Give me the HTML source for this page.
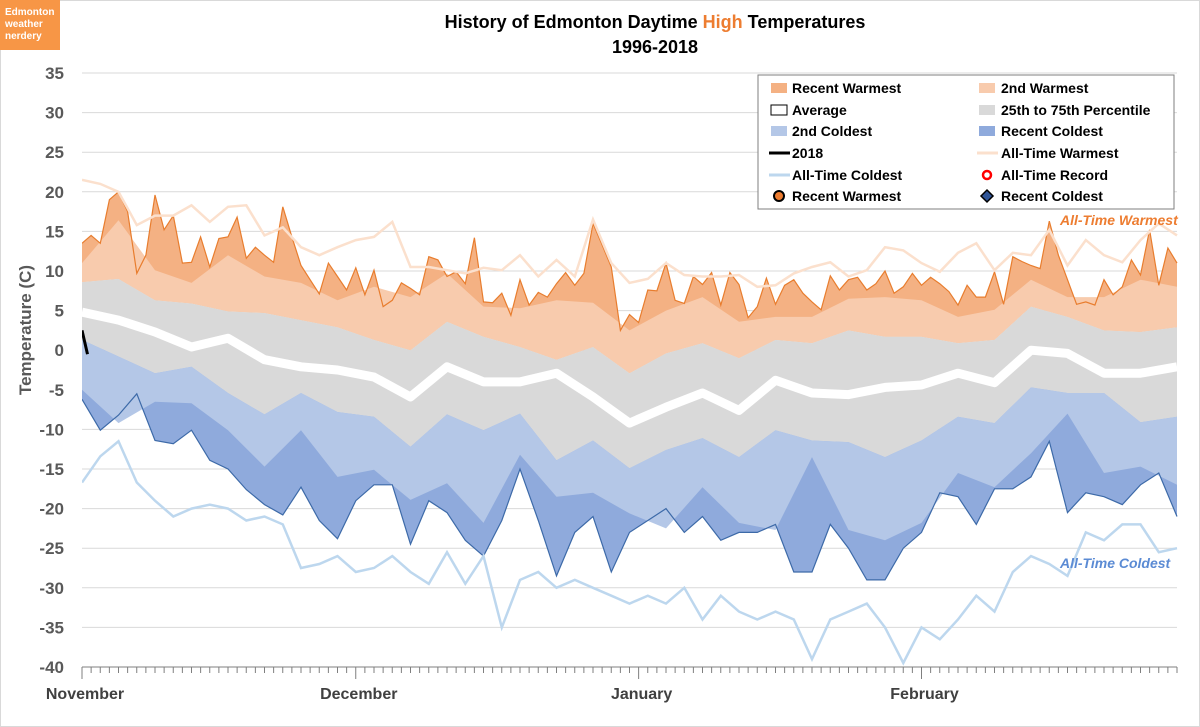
<!DOCTYPE html>
<html><head><meta charset="utf-8"><style>
body{margin:0;background:#fff;}
svg{display:block;font-family:"Liberation Sans",sans-serif;}
</style></head><body>
<svg id="chart" width="1200" height="727" viewBox="0 0 1200 727">
<rect x="0.5" y="0.5" width="1199" height="726" fill="#fff" stroke="#d9d9d9"/>
<rect x="0" y="0" width="60" height="50" fill="#f79646"/>
<text x="5" y="15" font-size="10" font-weight="bold" fill="#fff"><tspan x="5">Edmonton</tspan><tspan x="5" dy="12">weather</tspan><tspan x="5" dy="12">nerdery</tspan></text>
<text x="655" y="28" text-anchor="middle" font-size="18" font-weight="bold" fill="#000">History of Edmonton Daytime <tspan fill="#ed7d31">High</tspan> Temperatures</text>
<text x="655" y="53" text-anchor="middle" font-size="18" font-weight="bold" fill="#000">1996-2018</text>
<text transform="translate(31,330) rotate(-90)" text-anchor="middle" font-size="17" font-weight="bold" fill="#595959">Temperature (C)</text>
<g id="grid"></g><g id="plot"></g><g id="axes"></g>
<g>
<rect x="758" y="75" width="416" height="134" fill="#fff" stroke="#7f7f7f"/>
<g font-size="14" font-weight="bold" fill="#000">
<rect x="771" y="83" width="16" height="10" fill="#f4b183"/><text x="792" y="93">Recent Warmest</text>
<rect x="979" y="83" width="16" height="10" fill="#f8cbad"/><text x="1001" y="93">2nd Warmest</text>
<rect x="771" y="105" width="16" height="10" fill="#fff" stroke="#000"/><text x="792" y="115">Average</text>
<rect x="979" y="105" width="16" height="10" fill="#d9d9d9"/><text x="1001" y="115">25th to 75th Percentile</text>
<rect x="771" y="126" width="16" height="10" fill="#b4c7e7"/><text x="792" y="136">2nd Coldest</text>
<rect x="979" y="126" width="16" height="10" fill="#8faadc"/><text x="1001" y="136">Recent Coldest</text>
<line x1="769" y1="153" x2="790" y2="153" stroke="#000" stroke-width="3"/><text x="792" y="158">2018</text>
<line x1="977" y1="153" x2="998" y2="153" stroke="#fbe0cd" stroke-width="3"/><text x="1001" y="158">All-Time Warmest</text>
<line x1="769" y1="175" x2="790" y2="175" stroke="#bdd7ee" stroke-width="3"/><text x="792" y="180">All-Time Coldest</text>
<circle cx="987" cy="175" r="4" fill="#fff" stroke="#ff0000" stroke-width="2.5"/><text x="1001" y="180">All-Time Record</text>
<circle cx="779" cy="196" r="5" fill="#ed7d31" stroke="#000" stroke-width="2"/><text x="792" y="201">Recent Warmest</text>
<path d="M987,190 L993,196 L987,202 L981,196 Z" fill="#2f5597" stroke="#000" stroke-width="1.5"/><text x="1001" y="201">Recent Coldest</text>
</g></g>
<text x="1060" y="225" font-size="14" font-weight="bold" font-style="italic" fill="#ed7d31">All-Time Warmest</text>
<text x="1060" y="568" font-size="14" font-weight="bold" font-style="italic" fill="#5b8bd4">All-Time Coldest</text>
</svg>
<script>
const yTicks=[35,30,25,20,15,10,5,0,-5,-10,-15,-20,-25,-30,-35,-40];
const monthLabels=["November","December","January","February"];
const monthStarts=[0,30,61,92];
const recentWarm=[13.5,14.5,13.5,19,20,17.5,9.7,12,19.6,15.2,17,11,11.1,14.3,10.5,14.1,14.3,16.8,11.6,13,12,11.1,18.1,14.3,10.7,8.9,7.1,11,9.3,
7.6,10.4,7,10.1,5.5,6.3,8.5,7.8,7,11.8,11.4,9.3,9.9,8.4,14.2,6.1,6,7.2,4.4,8.9,5.7,7.3,6.7,8.4,9.8,8.2,9.7,16,13.3,10.5,2.5,4.5,3.5,7.6,7.5,11,6.3,5.9,9.3,8.3,9.8,5.7,9.8,8.3,4.1,5.5,9.1,5.8,8.2,8.9,7.2,6.1,5.1,9.4,7.6,8.9,9.2,7.6,8.4,10,7.2,8,9.7,8.2,9.2,8.4,7.4,5.7,8.2,6.7,6.7,9.9,5.8,11.8,11.2,10.7,10.3,16.3,12,8.9,5.8,6.1,5.7,8.9,7,8,11.4,9.5,15.2,8.2,12.9,11];
const allWarm=[21.5,21,20,15.8,17,17,18.3,16.2,18.1,18.3,14.5,15.5,13,12,13,13.9,14.3,16.2,10.5,10.5,10.1,9.7,10.4,10.1,12,9.3,11.4,9.3,16.5,11,8.5,9,11,9.5,9.3,9.3,9.5,8,8.2,9.7,10.5,11.1,9.3,10.1,13,12.6,11,9.9,12.3,13.5,10.1,12.3,12,15.2,10.7,13.9,12,11.1,13.9,16,14.5];
const warm2=[11,16.4,10.1,8.5,12,9.3,8.5,6.3,8,6.7,9.7,5.5,5.3,6.3,6,2.5,5,6.7,3.6,4.2,4.2,6.5,6.7,6.3,4.2,5.1,8.9,6.7,6.7,8.9,8];
const p75=[8.6,9,6.3,5.9,4.9,4.7,3.8,2.9,1.3,0,3.6,1.7,0.4,-1.2,0.4,-2.9,-0.4,0.9,-1,1.3,0.9,2.5,1.7,1.7,0.9,1.3,5.5,4.2,2.5,2.3,2.9];
const avg=[4.8,3.8,2.3,0.4,1.5,-1.2,-2.1,-2.5,-3.4,-5.9,-2.1,-4,-4,-2.9,-5.9,-9.2,-7.2,-5.4,-7.6,-3.8,-5.4,-5.6,-4.7,-4.4,-2.9,-4.1,0,-0.4,-2.9,-2.9,-2.1];
const p25=[1.3,-0.8,-2.9,-2.1,-5.4,-8.1,-5.4,-7.8,-8.4,-12.2,-8.1,-10.1,-8,-13.9,-11.4,-14.9,-12.6,-11.1,-13.5,-10.1,-11.4,-11.6,-13.5,-11.4,-8.4,-9.2,-4.7,-5.4,-5.4,-9.1,-8.4];
const cold2=[-5,-9.2,-6.5,-6.7,-10.1,-14.7,-10.1,-16,-15.1,-18.9,-16.8,-21.8,-13.2,-18.5,-18,-20.6,-22.5,-17.3,-21.8,-22.7,-13.5,-22.7,-24,-21.8,-15.5,-17.3,-13,-8,-15.5,-14.7,-17];
const recentCold=[-6.2,-10.1,-8.2,-5.5,-11.4,-11.8,-10.1,-13.9,-15,-17.6,-19.5,-20.8,-17.3,-21.5,-23.8,-19,-17,-17,-24.5,-19,-20.5,-24,-26,-21.5,-15,-21.5,-28.5,-23,-21,-28,-23,-21.5,-20,-23,-21,-24,-23,-23,-22,-28,-28,-22,-25,-29,-29,-25,-23,-18,-18.5,-22,-17.5,-17.5,-16,-11.5,-20.5,-18,-18.5,-19.5,-17,-15.5,-21];
const allCold=[-16.7,-13.4,-11.5,-16.7,-19,-21,-20,-19.5,-20,-21.5,-21,-22,-27.5,-27,-26,-28,-27.5,-26,-28,-29.5,-25.5,-29.5,-26,-35,-29,-28,-30,-29,-30,-31,-32,-31,-32,-30,-34,-31,-33,-34,-33,-34,-39,-34,-33,-32,-35,-39.5,-35,-36.5,-34,-31,-33,-28,-26,-27,-28.5,-23,-24,-22,-22,-25.5,-25];
const y2018=[2.5,-0.5];

const NS="http://www.w3.org/2000/svg";
const X0=82,DAYW=9.125,NDAYS=120;
function xs(d){return X0+d*DAYW;}
function ys(t){return 350.2-t*7.92;}
function pts(arr,step){return arr.map((v,i)=>[xs(i*step),ys(v)]);}
function mk(tag,attrs,parent){const e=document.createElementNS(NS,tag);for(const k in attrs)e.setAttribute(k,attrs[k]);parent.appendChild(e);return e;}
function area(top,ts,bot,bs){const a=pts(top,ts),b=pts(bot,bs).reverse();return a.concat(b).map(p=>p[0].toFixed(1)+","+p[1].toFixed(1)).join(" ");}
function line(arr,step){return pts(arr,step).map(p=>p[0].toFixed(1)+","+p[1].toFixed(1)).join(" ");}

const svg=document.getElementById('chart');
const grid=document.getElementById('grid');
const plot=document.getElementById('plot');
const axes=document.getElementById('axes');
const defs=mk('defs',{},svg);
const cp=mk('clipPath',{id:'pc'},defs);
mk('rect',{x:X0,y:60,width:xs(NDAYS)-X0+2,height:ys(-40)-60},cp);
plot.setAttribute('clip-path','url(#pc)');

yTicks.forEach(t=>{
  const g=mk('line',{x1:X0,x2:xs(NDAYS),y1:ys(t),y2:ys(t),stroke:'#d9d9d9','stroke-width':1},grid);
  
  
  const l=mk('text',{x:64,y:ys(t)+6,'text-anchor':'end','font-size':17,'font-weight':'bold',fill:'#595959'},axes);
  l.textContent=t;
  
  
});

let e;
e=mk('polygon',{points:area(recentWarm,1,p75,4),fill:'#f4b183'},plot);


e=mk('polygon',{points:area(warm2,4,p75,4),fill:'#f8cbad'},plot);


e=mk('polygon',{points:area(p75,4,p25,4),fill:'#d9d9d9'},plot);


e=mk('polygon',{points:area(p25,4,recentCold,2),fill:'#8faadc'},plot);


e=mk('polygon',{points:area(p25,4,cold2,4),fill:'#b4c7e7'},plot);


e=mk('polyline',{points:line(avg,4),fill:'none',stroke:'#fff','stroke-width':9,'stroke-linejoin':'round'},plot);


e=mk('polyline',{points:line(recentWarm,1),fill:'none',stroke:'#e87d2e','stroke-width':1.2},plot);


e=mk('polyline',{points:line(recentCold,2),fill:'none',stroke:'#3d6aa8','stroke-width':1.2},plot);


e=mk('polyline',{points:line(allWarm,2),fill:'none',stroke:'#fbe0cd','stroke-width':2.5},plot);


e=mk('polyline',{points:line(allCold,2),fill:'none',stroke:'#bdd7ee','stroke-width':2.5},plot);


e=mk('polyline',{points:line(y2018,0.6),fill:'none',stroke:'#000','stroke-width':3},plot);



e=mk('line',{x1:X0,x2:xs(NDAYS),y1:ys(-40),y2:ys(-40),stroke:'#7f7f7f','stroke-width':1},axes);


for(let d=0;d<=NDAYS;d++){
  const big=monthStarts.includes(d);
  e=mk('line',{x1:xs(d),x2:xs(d),y1:ys(-40),y2:ys(-40)+(big?12:6),stroke:'#7f7f7f','stroke-width':1},axes);
  
  
}
monthLabels.forEach((m,i)=>{
  const t=mk('text',{x:xs(monthStarts[i])+3,y:699,'text-anchor':'middle','font-size':16,'font-weight':'bold',fill:'#404040'},axes);
  t.textContent=m;
  
  
});
</script>
</body></html>
